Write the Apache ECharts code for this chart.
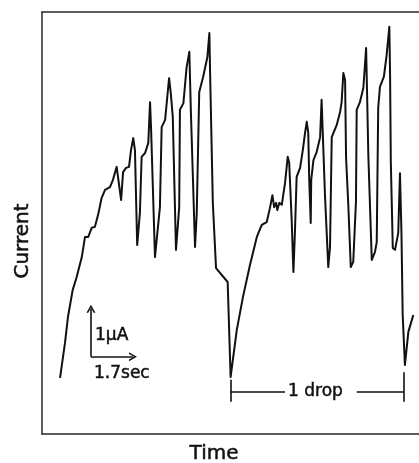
<!DOCTYPE html>
<html>
<head>
<meta charset="utf-8">
<script src="https://cdn.jsdelivr.net/npm/echarts@6/dist/echarts.min.js"></script>
<style>
html, body { margin: 0; padding: 0; background: #fff; }
#trace { width: 419px; height: 463px; }
</style>
</head>
<body>
<div id="trace"></div>
<script>
// current trace (time in sec, current in µA)
const time = [
	0.73, 0.93, 1.05, 1.24, 1.40, 1.61, 1.74, 1.87, 2.01, 2.14, 2.27, 2.41, 2.55, 2.75, 2.87,
	3.02, 3.20, 3.28, 3.40, 3.52, 3.60, 3.69, 3.76, 3.85, 3.96, 4.03, 4.17, 4.30, 4.37, 4.41,
	4.57, 4.77, 4.84, 4.98, 5.14, 5.21, 5.29, 5.42, 5.55, 5.58, 5.72, 5.85, 5.96, 6.02, 6.19,
	6.26, 6.36, 6.52, 6.69, 6.77, 6.80, 6.91, 7.04, 7.51, 7.63,
	7.88, 8.13, 8.41, 8.69, 8.89, 9.09, 9.22, 9.32, 9.39, 9.47, 9.52, 9.60, 9.70, 9.83, 9.94,
	10.00, 10.10, 10.17, 10.23, 10.30, 10.44, 10.55, 10.64, 10.71, 10.77, 10.81, 10.87, 10.89,
	10.98, 11.11, 11.25, 11.31, 11.36, 11.45, 11.58, 11.65, 11.72, 11.92, 12.06, 12.12, 12.19,
	12.26, 12.30, 12.39, 12.49, 12.59, 12.70, 12.73, 12.86, 13.00, 13.11, 13.14, 13.20, 13.34,
	13.47, 13.54, 13.60, 13.67, 13.83, 13.94, 14.05, 14.08, 14.11, 14.19, 14.28, 14.41, 14.48,
	14.53, 14.54, 14.59, 14.68, 14.82, 15.02
];
const current = [
	1.17, 1.90, 2.44, 3.00, 3.27, 3.69, 4.11, 4.11, 4.30, 4.32, 4.57, 4.92, 5.09, 5.15, 5.30,
	5.57, 4.88, 5.46, 5.55, 5.57, 5.92, 6.17, 5.92, 3.94, 4.61, 5.78, 5.86, 6.07, 6.92, 6.40,
	3.69, 4.73, 6.40, 6.55, 7.42, 7.11, 6.61, 3.84, 4.73, 6.76, 6.90, 7.65, 7.97, 6.76, 3.90,
	4.61, 7.13, 7.45, 7.86, 8.36, 7.53, 4.82, 3.46, 3.17, 1.19,
	2.17, 2.86, 3.52, 4.11, 4.36, 4.42, 4.71, 4.98, 4.73, 4.82, 4.67, 4.82, 4.78, 5.23, 5.78,
	5.65, 4.46, 3.38, 4.19, 5.36, 5.55, 5.92, 6.28, 6.51, 6.28, 5.30, 4.40, 5.30,
	5.71, 5.88, 6.19, 6.97, 6.24, 4.94, 3.48, 3.90, 6.19, 6.44, 6.72, 6.92, 7.53,
	7.38, 5.76, 4.78, 3.48, 3.59, 4.84, 6.76, 6.92, 7.22, 8.05, 7.34, 5.82, 3.63,
	3.80, 4.00, 6.80, 7.24, 7.45, 7.90, 8.49, 7.49, 5.67, 3.88, 3.84, 4.19, 5.44,
	5.40, 4.21, 2.48, 1.44, 2.13, 2.48
];
// scale bar: corner [sec, µA] and its size [1.7 sec, 1 µA]
const barOrigin = [1.98, 1.61];
const barSize = [1.7, 1];
// "1 drop" bracket: from one drop fall to the next, at this current level
const dropSpan = [7.63, 14.63];
const dropLevel = 0.88;
const dropGap = [9.83, 12.73]; // where the label sits

const ink = '#111';
const font = '"DejaVu Sans", sans-serif';
const arrowHead = 'path://M0,10 L5,0 L10,10 L8,10 L5,3.6 L2,10 Z';

const myChart = echarts.init(document.getElementById('trace'));

const boxAxis = {
	type: 'value',
	min: 0,
	max: 15.25,
	axisLine: { show: true, onZero: false, lineStyle: { color: '#2a2a2a', width: 1.5 } },
	axisTick: { show: false },
	axisLabel: { show: false },
	splitLine: { show: false }
};

function seg(a, b, head) {
	return [
		{ coord: a, symbol: 'none' },
		{ coord: b, symbol: head ? arrowHead : 'none', symbolSize: [9, 8] }
	];
}

// text label, slightly stroked so it is as heavy as the printed one
function label(text, x, y, size, align, rot) {
	return {
		type: 'text', x: x, y: y, rotation: rot || 0,
		style: {
			text: text, fill: ink, stroke: ink, lineWidth: 0.5,
			font: size + 'px ' + font,
			align: align, verticalAlign: 'middle',
			textAlign: align, textVerticalAlign: 'middle'
		}
	};
}

option = {
	backgroundColor: '#fff',
	animation: false,
	grid: { left: 42, top: 12, width: 377, height: 422 },
	xAxis: [
		Object.assign({ position: 'bottom' }, boxAxis),
		Object.assign({ position: 'top' }, boxAxis)
	],
	yAxis: {
		type: 'value',
		min: 0,
		max: 8.8,
		axisLine: { show: true, onZero: false, lineStyle: { color: '#2a2a2a', width: 1.5 } },
		axisTick: { show: false },
		axisLabel: { show: false },
		splitLine: { show: false }
	},
	graphic: [
		label('Current', 23, 241, 20, 'center', Math.PI / 2),
		label('Time', 214, 454, 20, 'center'),
		label('1μA', 95, 336, 17, 'left'),
		label('1.7sec', 94, 374, 17, 'left'),
		label('1 drop', 288, 392, 17, 'left')
	],
	series: [{
		name: 'Current',
		type: 'line',
		data: time.map((t, i) => [t, current[i]]),
		showSymbol: false,
		symbol: 'none',
		silent: true,
		lineStyle: { color: ink, width: 2, join: 'round' },
		markLine: {
			silent: true,
			animation: false,
			label: { show: false },
			lineStyle: { color: ink, width: 1.6, type: 'solid' },
			emphasis: { disabled: true },
			data: [
				seg(barOrigin, [barOrigin[0], barOrigin[1] + barSize[1]], true),
				seg(barOrigin, [barOrigin[0] + barSize[0], barOrigin[1]], true),
				seg([dropSpan[0], dropLevel], [dropGap[0], dropLevel]),
				seg([dropGap[1], dropLevel], [dropSpan[1], dropLevel]),
				seg([dropSpan[0], 0.67], [dropSpan[0], 1.13]),
				seg([dropSpan[1], 0.67], [dropSpan[1], 1.29])
			]
		}
	}]
};

myChart.setOption(option);
</script>
</body>
</html>
